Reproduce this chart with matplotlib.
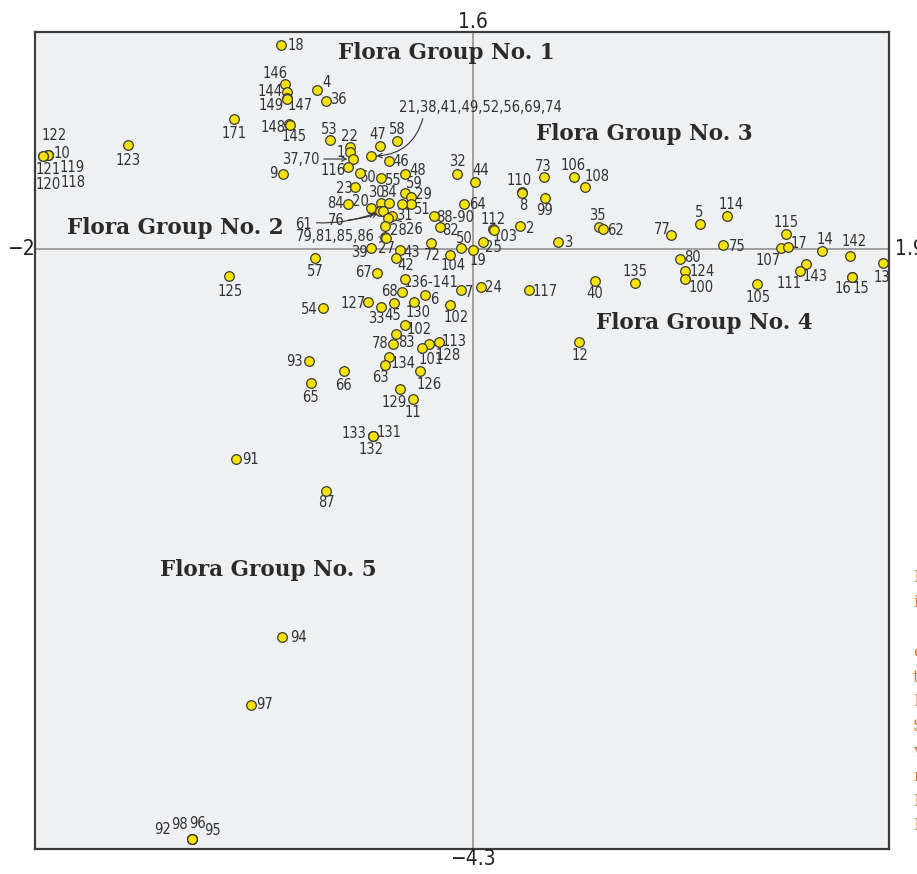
import matplotlib
matplotlib.use('Agg')
import matplotlib.pyplot as plt

plt.rcParams['font.family'] = ['DejaVu Sans']
plt.rcParams['font.stretch'] = 'condensed'

# site numbers and ordination scores (axis 1 / axis 2)
sites = ["18", "146", "144", "149", "147", "4", "36", "171", "123",
         "122", "10", "119", "118", "121", "120", "148", "145", "53", "22", "1",
         "37,70", "116", "9", "47", "58", "21,38,41,49,52,56,69,74", "46", "48",
         "60", "55", "23", "32", "84", "20", "30", "34", "59", "29", "51", "",
         "61", "76", "31", "26", "28", "79,81,85,86", "27", "39", "43", "42",
         "72", "88-90", "82", "50", "19", "104", "64", "44", "110", "8", "73",
         "106", "108", "99", "112", "103", "2", "25", "3", "35", "62", "7", "24",
         "117", "40", "135", "12", "77", "5", "114", "75", "80", "124", "100",
         "105", "115", "107", "17", "14", "142", "143", "111", "16", "15", "13",
         "57", "67", "136-141", "68", "6", "127", "33", "45", "130", "102", "54",
         "102", "83", "78", "113", "128", "101", "134", "63", "93", "66", "65",
         "126", "129", "11", "133", "131", "132", "125", "91", "87", "94", "97",
         "92", "98", "96", "95"]

axis1 = [-0.877, -0.858, -0.849, -0.849, -0.849, -0.712, -0.671, -1.091, -1.575,
         -1.941, -1.941, -1.941, -1.941, -1.963, -1.963, -0.840, -0.836, -0.653, -0.562, -0.562,
         -0.548, -0.571, -0.868, -0.425, -0.347, -0.466, -0.384, -0.311,
         -0.516, -0.420, -0.539, -0.073, -0.571, -0.466, -0.420, -0.384, -0.311, -0.283, -0.283, -0.324,
         -0.425, -0.411, -0.370, -0.388, -0.402, -0.402, -0.397, -0.466, -0.333, -0.352,
         -0.192, -0.178, -0.151, -0.055, 0.000, -0.105, -0.041, 0.009, 0.224, 0.224, 0.324,
         0.461, 0.511, 0.329, 0.091, 0.096, 0.215, 0.046, 0.388, 0.575, 0.594, -0.055, 0.037,
         0.256, 0.557, 0.740, 0.484, 0.904, 1.037, 1.160, 1.142, 0.945, 0.968, 0.968,
         1.297, 1.429, 1.406, 1.438, 1.594, 1.721, 1.521, 1.493, 1.731, 1.731, 1.872,
         -0.721, -0.438, -0.311, -0.324, -0.219, -0.479, -0.420, -0.361, -0.269, -0.105, -0.685,
         -0.311, -0.352, -0.365, -0.155, -0.201, -0.233, -0.384, -0.402, -0.749, -0.589, -0.740,
         -0.242, -0.333, -0.274, -0.457, -0.457, -0.457, -1.114, -1.082, -0.671, -0.872, -1.014,
         -1.283, -1.283, -1.283, -1.283]

axis2 = [1.473, 1.191, 1.134, 1.090, 1.083, 1.148, 1.069, 0.939, 0.751,
         0.679, 0.679, 0.679, 0.679, 0.671, 0.671, 0.903, 0.895, 0.787, 0.736, 0.700,
         0.650, 0.592, 0.542, 0.744, 0.780, 0.671, 0.635, 0.542,
         0.549, 0.513, 0.448, 0.542, 0.325, 0.296, 0.332, 0.332, 0.404, 0.375, 0.325, 0.325,
         0.274, 0.274, 0.238, 0.224, 0.166, 0.087, 0.079, 0.007, -0.007, -0.065,
         0.043, 0.238, 0.159, 0.007, -0.007, -0.043, 0.325, 0.484, 0.412, 0.404, 0.520,
         0.520, 0.448, 0.368, 0.144, 0.137, 0.166, 0.051, 0.051, 0.159, 0.144, -0.296, -0.274,
         -0.296, -0.231, -0.245, -0.671, 0.101, 0.181, 0.238, 0.029, -0.072, -0.159, -0.217,
         -0.253, 0.108, 0.007, 0.014, -0.014, -0.051, -0.108, -0.159, -0.202, -0.202, -0.101,
         -0.065, -0.173, -0.217, -0.310, -0.332, -0.383, -0.419, -0.390, -0.383, -0.404, -0.426,
         -0.549, -0.614, -0.686, -0.671, -0.686, -0.715, -0.780, -0.838, -0.809, -0.881, -0.968,
         -0.881, -1.011, -1.083, -1.350, -1.350, -1.350, -0.195, -1.516, -1.747, -2.801, -3.292,
         -4.260, -4.260, -4.260, -4.260]

# label placement (pixel offsets from the point)
label_offsets = [(15, 0), (-10, 11), (-17, 0), (-16, -7), (13, -6), (9, 8), (12, 1), (0, -15), (0, -15),
                 (6, 19), (14, 1), (24, -13), (25, -28), (5, -13), (5, -28), (-16, -4), (4, -11), (-1, 11), (0, 11), (-9, 0),
                 (-52, 0), (-15, -3), (-10, 0), (-2, 11), (0, 11), (110, 49), (12, 0), (13, 3),
                 (8, -5), (12, -3), (-11, -2), (0, 12), (-12, 1), (-10, 7), (-5, 11), (0, 11), (9, 10), (12, 3), (11, -5), (0, 0),
                 (-76, -13), (-47, -9), (12, 1), (26, -11), (13, -4), (-10, 0), (0, -10), (-12, -4), (12, -3), (10, -7),
                 (1, -12), (21, -1), (11, -3), (3, 10), (5, -11), (3, -11), (14, 0), (6, 11), (-3, 11), (1, -12), (-1, 11),
                 (-1, 12), (12, 10), (0, -12), (0, 10), (11, -6), (10, -2), (10, -6), (10, -1), (-1, 12), (13, -1), (8, -2), (12, -1),
                 (16, -1), (0, -12), (0, 11), (1, -14), (-9, 6), (-1, 11), (4, 12), (14, -1), (13, 1), (17, 0), (16, -8),
                 (1, -13), (0, 12), (-13, -12), (11, 4), (3, 11), (4, 15), (9, -13), (-11, -12), (-9, -11), (9, -11), (-1, -14),
                 (0, -13), (-14, 0), (26, -3), (-13, 0), (9, -4), (-15, -1), (-5, -11), (-1, -12), (4, -10), (6, -13), (-14, -1),
                 (14, -4), (11, -8), (-13, 1), (15, 0), (19, -11), (9, -11), (14, -6), (-4, -12), (-14, 0), (0, -14), (0, -14),
                 (9, -13), (-6, -13), (0, -13), (-19, 2), (16, 3), (-2, -14), (1, -15), (14, -1), (0, -12), (16, -1), (14, 0),
                 (-29, 10), (-13, 15), (5, 16), (20, 9)]

# labels drawn with arrows / leader lines
arrow_style = {
    "37,70": dict(arrowstyle='->', connectionstyle='arc3,rad=0', relpos=(1, 0.5)),
    "21,38,41,49,52,56,69,74": dict(arrowstyle='->', connectionstyle='arc3,rad=-0.4', relpos=(0.15, 0)),
    "61": dict(arrowstyle='->', connectionstyle='arc3,rad=0.12', relpos=(1, 0.6)),
    "76": dict(arrowstyle='->', connectionstyle='arc3,rad=0.1', relpos=(1, 0.5)),
    "26": dict(arrowstyle='-', connectionstyle='arc3,rad=0', relpos=(0.1, 0.9)),
    "79,81,85,86": dict(arrowstyle='-', connectionstyle='arc3,rad=0', relpos=(1, 0.5)),
}

groups = ["Flora Group No. 1", "Flora Group No. 2", "Flora Group No. 3",
          "Flora Group No. 4", "Flora Group No. 5"]
group_pos = [(-0.123, 1.415), (-1.361, 0.152), (0.781, 0.830), (1.059, -0.534), (-0.936, -2.318)]

fig = plt.figure(figsize=(9.17, 8.74), dpi=100)
ax = fig.add_axes([35 / 917, 1 - 849 / 874, 854 / 917, 817 / 874])
ax.set_facecolor('#eff0f2')
ax.set_xlim(-2.0, 1.9)
ax.set_ylim(-4.332, 1.567)
ax.set_xticks([])
ax.set_yticks([])
for sp in ax.spines.values():
    sp.set_color('#3c3c3c')
    sp.set_linewidth(1.6)

ax.axhline(0, color='#8a8a8a', lw=1.1, zorder=1)
ax.axvline(0, color='#8a8a8a', lw=1.1, zorder=1)

ax.scatter(axis1, axis2, s=48, c='#f7e300', edgecolors='#3a3a3a', linewidths=0.9, zorder=4)

for lab, x, y, (dx, dy) in zip(sites, axis1, axis2, label_offsets):
    if not lab:
        continue
    if lab in arrow_style:
        st = dict(arrow_style[lab])
        relpos = st.pop('relpos')
        ha = 'right' if lab == "79,81,85,86" else 'center'
        ax.annotate(lab, (x, y), xytext=(dx, dy), textcoords='offset pixels',
                    ha=ha, va='center', fontsize=10.5, color='#333333', zorder=3,
                    arrowprops=dict(color='#333333', lw=0.8, shrinkA=1, shrinkB=4,
                                    relpos=relpos, mutation_scale=8, **st))
    else:
        ax.annotate(lab, (x, y), xytext=(dx, dy), textcoords='offset pixels',
                    ha='center', va='center', fontsize=10.5, color='#333333', zorder=3)

for g, (gx, gy) in zip(groups, group_pos):
    ax.text(gx, gy, g, ha='center', va='center', fontsize=15.5, fontweight='bold',
            family='DejaVu Serif', fontstretch='normal', color='#2b2b2b', zorder=5)

# axis end values
tick_kw = dict(fontsize=15, color='#222222', clip_on=False)
ax.text(0, 1.0, '1.6', transform=ax.get_xaxis_transform(), ha='center', va='bottom', **tick_kw)
ax.text(0, 0.0, '\u22124.3', transform=ax.get_xaxis_transform(), ha='center', va='top', **tick_kw)
ax.text(0.0, 0, '\u22122', transform=ax.get_yaxis_transform(), ha='right', va='center', **tick_kw)
ax.text(1.0, 0, ' 1.9', transform=ax.get_yaxis_transform(), ha='left', va='center', **tick_kw)

# cut-off caption text at the right page edge
caption_bits = ["Fig", "in", "", "co", "th", "Ha", "Sp", "va", "re", "Ha", "In"]
for i, bit in enumerate(caption_bits):
    fig.text(913 / 917, 1 - (578 + 24.8 * i) / 874, bit, ha='left', va='center',
             fontsize=12, family='DejaVu Serif', fontstretch='normal', color='#e07a2a')

fig.savefig('out.png', dpi=100)
